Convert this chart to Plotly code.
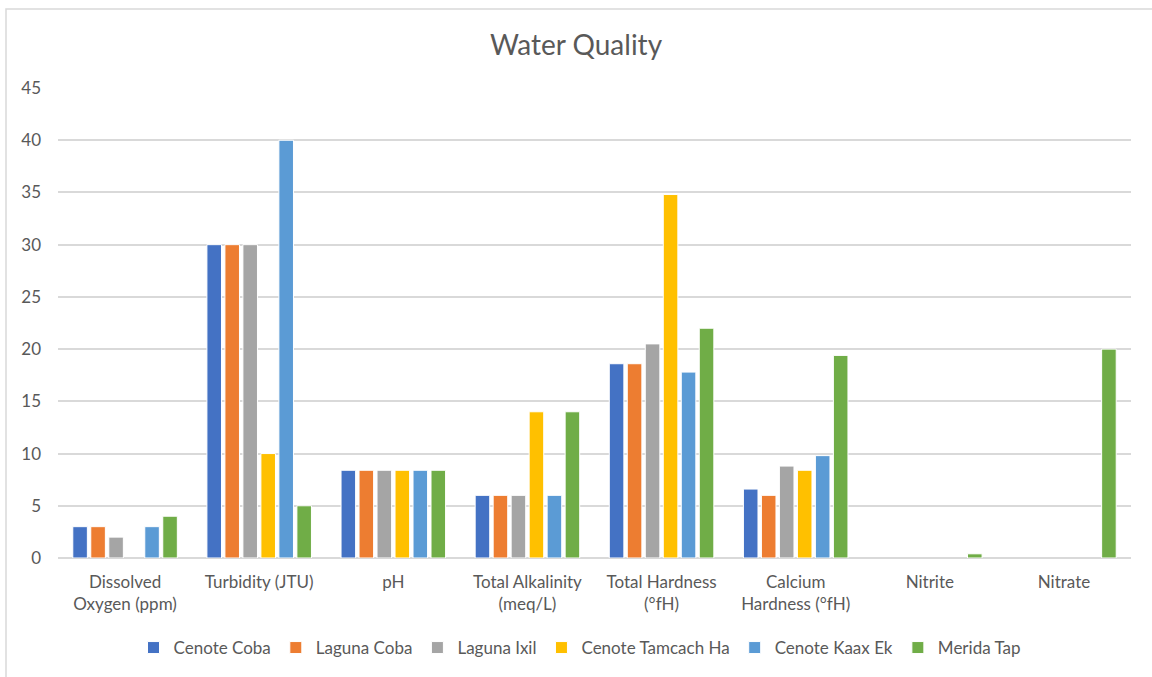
import plotly.graph_objects as go

# Water quality parameters measured at each site
categories = [
    "Dissolved<br>Oxygen (ppm)",
    "Turbidity (JTU)",
    "pH",
    "Total Alkalinity<br>(meq/L)",
    "Total Hardness<br>(°fH)",
    "Calcium<br>Hardness (°fH)",
    "Nitrite",
    "Nitrate",
]

cenote_coba = [3, 30, 8.4, 6, 18.6, 6.6, None, None]
laguna_coba = [3, 30, 8.4, 6, 18.6, 6, None, None]
laguna_ixil = [2, 30, 8.4, 6, 20.5, 8.8, None, None]
cenote_tamcach_ha = [None, 10, 8.4, 14, 34.8, 8.4, None, None]
cenote_kaax_ek = [3, 40, 8.4, 6, 17.8, 9.8, None, None]
merida_tap = [4, 5, 8.4, 14, 22, 19.4, 0.4, 20]

series = [
    ("Cenote Coba", cenote_coba, "#4472C4"),
    ("Laguna Coba", laguna_coba, "#ED7D31"),
    ("Laguna Ixil", laguna_ixil, "#A5A5A5"),
    ("Cenote Tamcach Ha", cenote_tamcach_ha, "#FFC000"),
    ("Cenote Kaax Ek", cenote_kaax_ek, "#5B9BD5"),
    ("Merida Tap", merida_tap, "#70AD47"),
]

y_ticks = [0, 5, 10, 15, 20, 25, 30, 35, 40, 45]

FONT = "Lato, Open Sans, sans-serif"
TEXT = "#595959"
GRID = "#d9d9d9"

fig = go.Figure()
for name, values, color in series:
    fig.add_trace(go.Bar(
        name=name,
        x=categories,
        y=values,
        marker=dict(color=color, line=dict(color="white", width=1)),
    ))

# Chart frame
L, T, W, H = 58, 88, 1073, 470
def px_x(p):
    return (p - L) / W
def px_y(p):
    return (T + H - p) / H

fig.add_shape(
    type="rect", xref="paper", yref="paper",
    x0=px_x(6), x1=px_x(1165), y0=px_y(9), y1=px_y(690),
    line=dict(color=GRID, width=1.5), fillcolor="rgba(0,0,0,0)", layer="below",
)

fig.update_layout(
    width=1152, height=677,
    margin=dict(l=L, r=1152 - L - W, t=T, b=677 - T - H, autoexpand=False),
    paper_bgcolor="white", plot_bgcolor="white",
    barmode="group", bargap=0.195, bargroupgap=0.19,
    title=dict(text="Water Quality", x=0.5, xanchor="center",
               y=1 - 45 / 677, yanchor="middle",
               font=dict(family=FONT, size=28, color=TEXT)),
    font=dict(family=FONT, size=17, color=TEXT),
    legend=dict(orientation="h", x=px_x(580), xanchor="center",
                y=px_y(648), yanchor="middle",
                font=dict(family=FONT, size=17, color=TEXT),
                itemwidth=30, traceorder="normal"),
    showlegend=True,
)

fig.update_yaxes(
    range=[0, 45], tickvals=y_ticks, ticktext=[str(v) for v in y_ticks],
    showgrid=True, gridcolor=GRID, gridwidth=1.5,
    zeroline=True, zerolinecolor=GRID, zerolinewidth=1.5,
    showline=False, ticks="", ticklabelstandoff=16,
    tickfont=dict(family=FONT, size=17, color=TEXT),
)
fig.update_xaxes(
    showgrid=False, showline=False, ticks="",
    tickangle=0, ticklabelstandoff=12,
    tickfont=dict(family=FONT, size=17, color=TEXT),
)

fig.write_html("out.html")
